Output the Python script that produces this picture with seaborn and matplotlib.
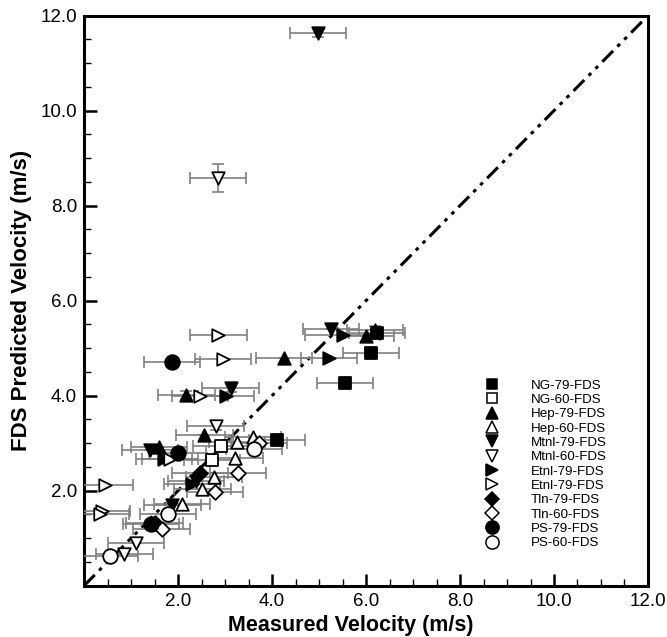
import numpy as np
import pandas as pd
import matplotlib
matplotlib.use("Agg")
import matplotlib.pyplot as plt
from matplotlib.lines import Line2D
import seaborn as sns

sns.set_theme(style="white")
plt.rcParams['font.family'] = ['Liberation Sans', 'DejaVu Sans']
plt.rcParams['text.color'] = 'black'
plt.rcParams['axes.labelcolor'] = 'black'
plt.rcParams['xtick.color'] = 'black'
plt.rcParams['ytick.color'] = 'black'

# ---- data ----
ng79_x = [6.23, 6.11, 5.55, 4.10]
ng79_y = [5.31, 4.89, 4.27, 3.07]
ng60_x = [2.92, 2.72]
ng60_y = [2.95, 2.64]
hep79_x = [6.19, 6.00, 4.26, 2.18, 2.56, 1.60]
hep79_y = [5.38, 5.26, 4.79, 4.02, 3.17, 2.91]
hep60_x = [3.25, 3.59, 3.21, 2.76, 2.52, 2.08]
hep60_y = [3.02, 3.12, 2.68, 2.29, 2.04, 1.72]
mtnl79_x = [4.98, 5.25, 3.12, 1.40, 2.38, 1.88]
mtnl79_y = [11.64, 5.40, 4.17, 2.86, 2.20, 1.70]
mtnl60_x = [2.85, 2.80, 1.10, 0.86]
mtnl60_y = [8.58, 3.37, 0.89, 0.67]
etnl79_x = [5.50, 5.21, 3.02, 1.70, 2.30]
etnl79_y = [5.28, 4.79, 4.00, 2.67, 2.15]
etnl60_x = [2.86, 2.96, 2.47, 1.83, 0.45, 0.38, 0.35]
etnl60_y = [5.28, 4.78, 4.00, 2.66, 2.13, 1.57, 1.50]
tln79_x = [2.47, 1.50]
tln79_y = [2.37, 1.33]
tln60_x = [3.27, 2.79, 1.65, 3.72]
tln60_y = [2.38, 1.97, 1.19, 3.00]
ps79_x = [1.87, 1.99, 1.43]
ps79_y = [4.71, 2.80, 1.29]
ps60_x = [3.62, 1.79, 0.55]
ps60_y = [2.87, 1.50, 0.62]

x_err_default = 0.6
mtnl79_yerr = [0.10, 0.0, 0.10, 0.0, 0.0, 0.0]
mtnl60_yerr = [0.30, 0.10, 0.0, 0.0]
hep79_yerr = [0.08, 0.0, 0.0, 0.08, 0.0, 0.0]
etnl79_xerr = [0.8, 0.6, 0.6, 0.6, 0.6]

legend_labels = ['NG-79-FDS', 'NG-60-FDS', 'Hep-79-FDS', 'Hep-60-FDS',
                 'Mtnl-79-FDS', 'Mtnl-60-FDS', 'Etnl-79-FDS', 'Etnl-79-FDS',
                 'Tln-79-FDS', 'Tln-60-FDS', 'PS-79-FDS', 'PS-60-FDS']
diag = [0.0, 12.0]
x_ticks = [2.0, 4.0, 6.0, 8.0, 10.0, 12.0]

series = [
    ('ng79', ng79_x, ng79_y, None, None, 's', True, 8),
    ('ng60', ng60_x, ng60_y, None, None, 's', False, 8),
    ('hep79', hep79_x, hep79_y, None, hep79_yerr, '^', True, 9),
    ('hep60', hep60_x, hep60_y, None, None, '^', False, 9),
    ('mtnl79', mtnl79_x, mtnl79_y, None, mtnl79_yerr, 'v', True, 9),
    ('mtnl60', mtnl60_x, mtnl60_y, None, mtnl60_yerr, 'v', False, 9),
    ('etnl79', etnl79_x, etnl79_y, etnl79_xerr, None, '>', True, 9),
    ('etnl60', etnl60_x, etnl60_y, None, None, '>', False, 9),
    ('tln79', tln79_x, tln79_y, None, None, 'D', True, 7.5),
    ('tln60', tln60_x, tln60_y, None, None, 'D', False, 7.5),
    ('ps79', ps79_x, ps79_y, None, None, 'o', True, 10.5),
    ('ps60', ps60_x, ps60_y, None, None, 'o', False, 10.5),
]

fig = plt.figure(figsize=(6.67, 6.37), dpi=100)
ax = fig.add_axes([0.126, 0.0805, 0.8455, 0.895])

# diagonal y = x
sns.lineplot(x=diag, y=diag, ax=ax, color='black', lw=2.2,
             linestyle=(0, (5, 2, 1.2, 2, 1.2, 2)), zorder=2)

handles = []
for key, xs, ys, xe, ye, mk, filled, ms in series:
    xe = xe if xe is not None else [x_err_default] * len(xs)
    ax.errorbar(xs, ys, xerr=xe, yerr=ye, fmt='none', ecolor='#808080',
                elinewidth=1.2, capsize=4, capthick=1.2, zorder=3)
    df = pd.DataFrame({'x': xs, 'y': ys})
    fc = 'black' if filled else 'white'
    sns.scatterplot(data=df, x='x', y='y', marker=mk, s=ms ** 2,
                    facecolor=fc, edgecolor='black', linewidth=1.3,
                    ax=ax, zorder=4, legend=False)
    lm = {'o': 9.5, 'D': 7, 's': 7.5}.get(mk, 8.5)
    handles.append(Line2D([], [], marker=mk, linestyle='none',
                          markerfacecolor=fc, markeredgecolor='black',
                          markeredgewidth=1.1, markersize=lm))

ax.set_xlim(0, 12)
ax.set_ylim(0, 12)
ax.set_xticks(x_ticks)
ax.set_yticks(x_ticks)
ax.set_xticklabels([f'{t:.1f}' for t in x_ticks])
ax.set_yticklabels([f'{t:.1f}' for t in x_ticks])
ax.set_xticks(np.arange(0.5, 12, 0.5), minor=True)
ax.set_yticks(np.arange(0.5, 12, 0.5), minor=True)
ax.tick_params(which='major', direction='in', length=9, width=1.8,
               labelsize=13.5, colors='black', bottom=True, left=True,
               top=False, right=False, pad=5)
ax.tick_params(which='minor', direction='in', length=5, width=1.0,
               bottom=True, left=True, top=False, right=False)
for sp in ax.spines.values():
    sp.set_linewidth(2.2)
    sp.set_color('black')

ax.set_xlabel('Measured Velocity (m/s)', fontsize=15.5, fontweight='bold')
ax.set_ylabel('FDS Predicted Velocity (m/s)', fontsize=16,
              fontweight='bold')
ax.xaxis.set_label_coords(0.473, -0.052)
ax.yaxis.set_label_coords(-0.092, 0.5)

ax.legend(handles, legend_labels, loc='upper left',
          bbox_to_anchor=(0.70, 0.362), frameon=False, fontsize=9.6,
          handlelength=2, handletextpad=1.9, labelspacing=0.15,
          borderpad=0, borderaxespad=0)

fig.savefig('out.png', dpi=100)
